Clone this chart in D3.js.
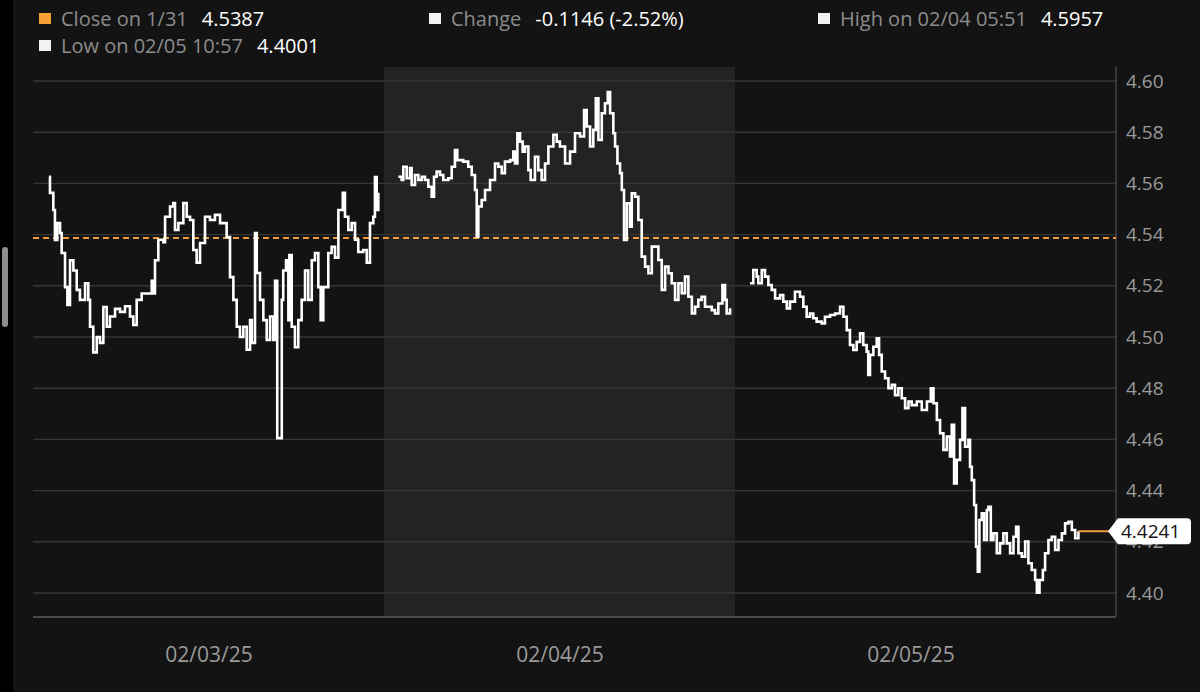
<!DOCTYPE html>
<html>
<head>
<meta charset="utf-8">
<script src="https://cdn.jsdelivr.net/npm/d3@7"></script>
<style>
  html, body { margin: 0; padding: 0; background: #131313; overflow: hidden; }
  svg { display: block; font-family: "Open Sans", "DejaVu Sans", sans-serif; }
</style>
</head>
<body>
<svg id="chart" width="1200" height="692"></svg>
<script>
// ---- data ----
var days = ["2025-02-03", "2025-02-04", "2025-02-05"];
var shadedDay = "2025-02-04";
var yTicks = [4.40, 4.42, 4.44, 4.46, 4.48, 4.50, 4.52, 4.54, 4.56, 4.58, 4.60];
var closeValue = 4.5387;
var lastValue = 4.4241;

var legendLabels = ["Close on 1/31", "Change", "High on 02/04 05:51", "Low on 02/05 10:57"];
var legendValues = ["4.5387", "-0.1146 (-2.52%)", "4.5957", "4.4001"];
var legendColors = ["#f7a035", "#f2f2f2", "#f2f2f2", "#f2f2f2"];

// hours after midnight, per day, and the yield at that time
var hours1 = [1.09,1.16,1.39,1.50,1.66,1.85,1.96,2.19,2.35,2.53,2.76,2.99,3.21,3.56,3.78,3.90,4.12,4.36,4.58,4.81,
  5.04,5.26,5.61,5.95,6.29,6.63,6.86,7.09,7.43,7.77,8.12,8.23,8.34,8.57,8.91,9.03,9.37,9.59,9.71,9.94,
  10.28,10.51,10.74,10.96,11.19,11.42,11.76,12.10,12.44,12.79,13.24,13.47,13.70,13.93,14.15,14.38,14.61,14.84,14.96,15.18,
  15.30,15.52,15.75,15.98,16.21,16.43,16.55,16.70,16.89,17.01,17.11,17.30,17.46,17.53,17.69,17.91,18.14,18.37,18.60,18.82,
  19.06,19.28,19.51,19.67,19.85,20.19,20.42,20.65,20.88,21.18,21.33,21.56,21.79,22.02,22.24,22.58,22.82,23.04,23.27,23.38,
  23.50,23.61];
var yields1 = [4.5626,4.5563,4.5496,4.5379,4.5445,4.5406,4.5328,4.5195,4.5125,4.5300,4.5260,4.5184,4.5145,4.5210,4.5145,4.5040,4.4940,4.5000,4.4977,4.5117,
  4.5040,4.5080,4.5110,4.5098,4.5120,4.5080,4.5047,4.5145,4.5170,4.5170,4.5220,4.5170,4.5300,4.5380,4.5370,4.5470,4.5510,4.5523,4.5418,4.5445,
  4.5523,4.5470,4.5457,4.5340,4.5290,4.5367,4.5470,4.5457,4.5477,4.5445,4.5390,4.5234,4.5145,4.5040,4.5000,4.5040,4.4950,4.5066,4.4977,4.5406,
  4.5250,4.5145,4.5066,4.4988,4.5080,4.4988,4.5220,4.4605,4.4605,4.5145,4.5260,4.5300,4.5066,4.5320,4.5040,4.4960,4.5066,4.5145,4.5260,4.5145,
  4.5300,4.5328,4.5195,4.5066,4.5195,4.5328,4.5352,4.5310,4.5496,4.5563,4.5470,4.5418,4.5445,4.5380,4.5332,4.5340,4.5290,4.5445,4.5470,4.5625,
  4.5496,4.5563];

var hours2 = [0.98,1.21,1.32,1.55,1.78,1.89,2.12,2.35,2.58,2.80,3.03,3.26,3.42,3.60,3.83,4.05,4.40,4.63,4.85,5.01,
  5.42,5.76,6.00,6.22,6.34,6.45,6.68,6.91,7.25,7.59,7.82,8.05,8.27,8.62,8.84,8.96,9.12,9.30,9.48,9.64,
  9.87,10.03,10.32,10.55,10.78,11.01,11.24,11.58,11.81,12.03,12.38,12.72,13.06,13.40,13.68,13.86,14.09,14.31,14.48,14.66,
  14.89,15.11,15.30,15.46,15.68,15.80,15.96,16.14,16.26,16.41,16.60,16.82,16.94,17.17,17.39,17.62,17.85,18.08,18.31,18.53,
  18.76,18.99,19.22,19.45,19.67,19.90,20.13,20.36,20.58,20.81,21.05,21.27,21.49,21.72,21.95,22.18,22.41,22.63,22.86,23.14,
  23.32,23.43,23.66];
var yields2 = [4.5626,4.5613,4.5665,4.5620,4.5660,4.5594,4.5633,4.5613,4.5626,4.5613,4.5587,4.5548,4.5626,4.5646,4.5633,4.5613,4.5620,4.5665,4.5730,4.5691,
  4.5685,4.5665,4.5633,4.5574,4.5392,4.5510,4.5535,4.5574,4.5613,4.5678,4.5665,4.5640,4.5685,4.5691,4.5724,4.5678,4.5796,4.5763,4.5724,4.5744,
  4.5652,4.5613,4.5704,4.5652,4.5613,4.5678,4.5744,4.5790,4.5763,4.5744,4.5678,4.5724,4.5796,4.5783,4.5887,4.5822,4.5744,4.5809,4.5932,4.5770,
  4.5874,4.5913,4.5957,4.5874,4.5796,4.5744,4.5678,4.5640,4.5574,4.5379,4.5522,4.5431,4.5561,4.5548,4.5457,4.5314,4.5275,4.5249,4.5353,4.5353,
  4.5301,4.5184,4.5275,4.5249,4.5210,4.5145,4.5210,4.5171,4.5236,4.5157,4.5092,4.5118,4.5145,4.5157,4.5118,4.5118,4.5105,4.5092,4.5131,4.5203,
  4.5145,4.5092,4.5112];

var hours3 = [1.03,1.25,1.48,1.59,1.83,2.05,2.28,2.51,2.74,3.08,3.30,3.54,3.76,4.10,4.44,4.67,4.90,5.13,5.35,5.58,
  5.93,6.15,6.50,6.84,7.18,7.41,7.64,7.86,8.09,8.32,8.55,8.77,9.00,9.11,9.23,9.46,9.69,9.85,10.03,10.26,
  10.49,10.72,10.94,11.17,11.40,11.63,11.86,12.08,12.43,12.77,13.12,13.39,13.57,13.80,14.02,14.25,14.48,14.70,14.82,14.98,
  15.16,15.39,15.55,15.73,15.96,16.07,16.19,16.35,16.48,16.60,16.71,16.87,17.03,17.22,17.33,17.49,17.67,17.90,18.12,18.35,
  18.58,18.81,19.04,19.22,19.38,19.61,19.84,20.06,20.29,20.52,20.64,20.82,21.05,21.20,21.43,21.66,21.89,22.12,22.35,22.57,
  22.80,23.03,23.26,23.48];
var yields3 = [4.5210,4.5262,4.5236,4.5210,4.5262,4.5236,4.5203,4.5184,4.5151,4.5164,4.5138,4.5112,4.5138,4.5177,4.5157,4.5118,4.5079,4.5092,4.5073,4.5060,
  4.5053,4.5079,4.5086,4.5092,4.5118,4.5079,4.5027,4.4969,4.4949,4.4981,4.5014,4.4969,4.4943,4.4852,4.4930,4.4962,4.4995,4.4930,4.4865,4.4839,
  4.4800,4.4813,4.4773,4.4800,4.4761,4.4722,4.4748,4.4734,4.4748,4.4715,4.4748,4.4800,4.4741,4.4676,4.4624,4.4559,4.4611,4.4533,4.4657,4.4428,
  4.4520,4.4598,4.4722,4.4571,4.4598,4.4493,4.4441,4.4344,4.4181,4.4083,4.4285,4.4311,4.4207,4.4324,4.4337,4.4207,4.4233,4.4155,4.4194,4.4233,
  4.4194,4.4155,4.4220,4.4259,4.4155,4.4142,4.4201,4.4116,4.4090,4.4051,4.4001,4.4051,4.4090,4.4155,4.4207,4.4220,4.4168,4.4207,4.4233,4.4272,
  4.4278,4.4246,4.4214,4.4241];

// ---- layout ----
var W = 1200, H = 692;
var plot = {left: 33, right: 1116, top: 67, bottom: 617};

var svg = d3.select("#chart");
var parseDay = d3.timeParse("%Y-%m-%d");

function toPoints(day, hours, vals) {
  var d0 = parseDay(day);
  return hours.map(function(h, i) {
    return {t: new Date(d0.getTime() + h * 3600 * 1000), v: vals[i]};
  });
}
var sessions = [
  toPoints(days[0], hours1, yields1),
  toPoints(days[1], hours2, yields2),
  toPoints(days[2], hours3, yields3)
];

// x: three full days plus a little room at the right for the last-price tag
var x = d3.scaleTime()
  .domain([parseDay(days[0]), new Date(parseDay(days[2]).getTime() + 26.05 * 3600 * 1000)])
  .range([plot.left, plot.right]);

var y = d3.scaleLinear()
  .domain([4.40, 4.60])
  .range([593, 81]);

// left black strip + scrollbar (screenshot chrome)
svg.append("rect").attr("x", 0).attr("y", 0).attr("width", 13).attr("height", H).attr("fill", "#000");
svg.append("rect").attr("x", 2).attr("y", 247).attr("width", 6).attr("height", 80)
  .attr("rx", 3).attr("fill", "#8e8e8e");

// shaded session
var sd = parseDay(shadedDay);
svg.append("rect")
  .attr("x", x(sd))
  .attr("y", plot.top)
  .attr("width", x(d3.timeDay.offset(sd, 1)) - x(sd))
  .attr("height", plot.bottom - plot.top)
  .attr("fill", "#232323");

// horizontal grid
svg.append("g").selectAll("line")
  .data(yTicks)
  .enter().append("line")
    .attr("x1", plot.left).attr("x2", plot.right)
    .attr("y1", function(d) { return y(d); })
    .attr("y2", function(d) { return y(d); })
    .attr("stroke", "#363636")
    .attr("stroke-width", 1.4);

// frame: bottom and right
svg.append("line").attr("x1", plot.left).attr("x2", plot.right)
  .attr("y1", plot.bottom).attr("y2", plot.bottom)
  .attr("stroke", "#4a4a4a").attr("stroke-width", 2);
svg.append("line").attr("x1", plot.right).attr("x2", plot.right)
  .attr("y1", plot.top).attr("y2", plot.bottom)
  .attr("stroke", "#454545").attr("stroke-width", 1.5);

// y axis labels
var yAxis = svg.append("g")
  .attr("transform", "translate(" + (plot.right + 10) + ",0)")
  .call(d3.axisRight(y).tickValues(yTicks).tickFormat(d3.format(".2f")).tickSize(0).tickPadding(0));
yAxis.select(".domain").remove();
yAxis.selectAll("text")
  .attr("fill", "#9a9a9a")
  .style("font-size", "19px")
  .style("font-family", "'Open Sans', sans-serif");

// x axis labels at mid-day
var noons = days.map(function(d) { return new Date(parseDay(d).getTime() + 12 * 3600 * 1000); });
var xAxis = svg.append("g")
  .attr("transform", "translate(0," + (plot.bottom + 30) + ")")
  .call(d3.axisBottom(x).tickValues(noons).tickFormat(d3.timeFormat("%m/%d/%y")).tickSize(0).tickPadding(0));
xAxis.select(".domain").remove();
xAxis.selectAll("text")
  .attr("fill", "#9a9a9a")
  .style("font-size", "21px")
  .style("font-family", "'Open Sans', sans-serif");

// previous close
svg.append("line")
  .attr("x1", plot.left).attr("x2", plot.right)
  .attr("y1", y(closeValue)).attr("y2", y(closeValue))
  .attr("stroke", "#f29d38")
  .attr("stroke-width", 2)
  .attr("stroke-dasharray", "6,4");

// price line, one path per session (tick data -> step look)
var line = d3.line()
  .curve(d3.curveStepAfter)
  .x(function(d) { return x(d.t); })
  .y(function(d) { return y(d.v); });

svg.append("g").selectAll("path")
  .data(sessions)
  .enter().append("path")
    .attr("d", line)
    .attr("fill", "none")
    .attr("stroke", "#ffffff")
    .attr("stroke-width", 2.6);

// last price tag
var last = sessions[2][sessions[2].length - 1];
var ly = y(lastValue);
svg.append("line")
  .attr("x1", x(last.t)).attr("x2", plot.right)
  .attr("y1", ly).attr("y2", ly)
  .attr("stroke", "#f29d38").attr("stroke-width", 2);

var tx = plot.right - 8;
svg.append("path")
  .attr("d", "M" + tx + "," + ly +
    " L" + (tx + 10) + "," + (ly - 13) +
    " L" + (tx + 79) + "," + (ly - 13) +
    " Q" + (tx + 83) + "," + (ly - 13) + " " + (tx + 83) + "," + (ly - 9) +
    " L" + (tx + 83) + "," + (ly + 9) +
    " Q" + (tx + 83) + "," + (ly + 13) + " " + (tx + 79) + "," + (ly + 13) +
    " L" + (tx + 10) + "," + (ly + 13) + " Z")
  .attr("fill", "#ffffff");
svg.append("text")
  .attr("x", tx + 13).attr("y", ly)
  .attr("dy", "0.36em")
  .attr("fill", "#111")
  .style("font-size", "19px")
  .text(d3.format(".4f")(lastValue));

// legend
var legendPos = [
  {x: 39, y: 26},
  {x: 429, y: 26},
  {x: 818, y: 26},
  {x: 39, y: 53}
];
var leg = svg.append("g").selectAll("g")
  .data(legendLabels)
  .enter().append("g");
leg.append("rect")
  .attr("x", function(d, i) { return legendPos[i].x; })
  .attr("y", function(d, i) { return legendPos[i].y - 13; })
  .attr("width", 12).attr("height", 11)
  .attr("fill", function(d, i) { return legendColors[i]; });
leg.append("text")
  .attr("class", "lab")
  .attr("x", function(d, i) { return legendPos[i].x + 22; })
  .attr("y", function(d, i) { return legendPos[i].y; })
  .attr("fill", "#8c8c8c")
  .style("font-size", "20px")
  .text(function(d) { return d; });
leg.append("text")
  .attr("x", function(d, i) {
    var lab = d3.select(this.parentNode).select(".lab").node();
    return legendPos[i].x + 22 + lab.getComputedTextLength() + 14;
  })
  .attr("y", function(d, i) { return legendPos[i].y; })
  .attr("fill", "#ffffff")
  .style("font-size", "20px")
  .text(function(d, i) { return legendValues[i]; });
</script>
</body>
</html>
